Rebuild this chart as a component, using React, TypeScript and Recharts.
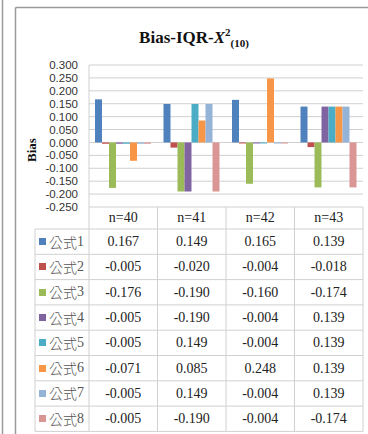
import { Bar, BarChart, CartesianGrid, XAxis, YAxis } from 'recharts'

const categories = ['n=40', 'n=41', 'n=42', 'n=43']
const seriesNames = ['公式1', '公式2', '公式3', '公式4', '公式5', '公式6', '公式7', '公式8']
const seriesColors = ['#4F81BD', '#C0504D', '#9BBB59', '#8064A2', '#4BACC6', '#F79646', '#95B3D7', '#D99694']

const formula1 = [0.167, 0.149, 0.165, 0.139]
const formula2 = [-0.005, -0.02, -0.004, -0.018]
const formula3 = [-0.176, -0.19, -0.16, -0.174]
const formula4 = [-0.005, -0.19, -0.004, 0.139]
const formula5 = [-0.005, 0.149, -0.004, 0.139]
const formula6 = [-0.071, 0.085, 0.248, 0.139]
const formula7 = [-0.005, 0.149, -0.004, 0.139]
const formula8 = [-0.005, -0.19, -0.004, -0.174]

const seriesValues = [formula1, formula2, formula3, formula4, formula5, formula6, formula7, formula8]
const yTicks = [0.3, 0.25, 0.2, 0.15, 0.1, 0.05, 0, -0.05, -0.1, -0.15, -0.2, -0.25]

const data = categories.map((name, i) => {
  const row: Record<string, string | number> = { name }
  seriesNames.forEach((s, j) => {
    row[s] = seriesValues[j][i]
  })
  return row
})

// layout
const W = 368
const H = 434
const PLOT_LEFT = 89
const PLOT_RIGHT = 363
const PLOT_TOP = 65
const PLOT_BOTTOM = 207
const HEADER_BOTTOM = 229
const ROW_H = 25.3
const LABEL_LEFT = 35
const COL_W = (PLOT_RIGHT - PLOT_LEFT) / categories.length
const LINE = '#D0D0D0'

const serif = '"Liberation Serif", "Times New Roman", serif'
const cjk = '"Noto Sans CJK TC", "Noto Sans CJK SC", sans-serif'

function DataTable() {
  const cells: JSX.Element[] = []
  // header
  categories.forEach((c, i) => {
    cells.push(
      <div
        key={`h${i}`}
        style={{
          position: 'absolute',
          left: PLOT_LEFT + i * COL_W,
          top: PLOT_BOTTOM,
          width: COL_W,
          height: HEADER_BOTTOM - PLOT_BOTTOM,
          lineHeight: `${HEADER_BOTTOM - PLOT_BOTTOM}px`,
          textAlign: 'center',
          fontFamily: serif,
          fontSize: 14,
          color: '#222',
        }}
      >
        {c}
      </div>,
    )
  })
  seriesNames.forEach((s, r) => {
    const top = HEADER_BOTTOM + r * ROW_H
    cells.push(
      <div
        key={`l${r}`}
        style={{
          position: 'absolute',
          left: LABEL_LEFT,
          top,
          width: PLOT_LEFT - LABEL_LEFT,
          height: ROW_H,
          display: 'flex',
          alignItems: 'center',
          fontSize: 14,
          color: '#555',
        }}
      >
        <span
          style={{
            display: 'inline-block',
            width: 7,
            height: 7,
            marginLeft: 4,
            marginRight: 3,
            background: seriesColors[r],
          }}
        />
        <span style={{ fontFamily: cjk, fontWeight: 300 }}>公式</span>
        <span style={{ fontFamily: serif }}>{s.slice(2)}</span>
      </div>,
    )
    seriesValues[r].forEach((v, i) => {
      cells.push(
        <div
          key={`c${r}-${i}`}
          style={{
            position: 'absolute',
            left: PLOT_LEFT + i * COL_W,
            top,
            width: COL_W,
            height: ROW_H,
            lineHeight: `${ROW_H}px`,
            textAlign: 'center',
            fontFamily: serif,
            fontSize: 14,
            color: '#222',
          }}
        >
          {v.toFixed(3)}
        </div>,
      )
    })
  })
  return (
    <>
      <svg
        width={W}
        height={H}
        style={{ position: 'absolute', left: 0, top: 0, pointerEvents: 'none' }}
      >
        {categories.map((_, i) => (
          <line
            key={`v${i}`}
            x1={PLOT_LEFT + (i + 1) * COL_W}
            x2={PLOT_LEFT + (i + 1) * COL_W}
            y1={PLOT_BOTTOM}
            y2={HEADER_BOTTOM + seriesNames.length * ROW_H}
            stroke={LINE}
          />
        ))}
        <line
          x1={PLOT_LEFT}
          x2={PLOT_LEFT}
          y1={PLOT_BOTTOM}
          y2={HEADER_BOTTOM + seriesNames.length * ROW_H}
          stroke={LINE}
        />
        <line
          x1={LABEL_LEFT}
          x2={LABEL_LEFT}
          y1={HEADER_BOTTOM}
          y2={HEADER_BOTTOM + seriesNames.length * ROW_H}
          stroke={LINE}
        />
        {seriesNames.map((_, r) => (
          <line
            key={`r${r}`}
            x1={LABEL_LEFT}
            x2={PLOT_RIGHT}
            y1={HEADER_BOTTOM + r * ROW_H}
            y2={HEADER_BOTTOM + r * ROW_H}
            stroke={LINE}
          />
        ))}
        <line
          x1={LABEL_LEFT}
          x2={PLOT_RIGHT}
          y1={HEADER_BOTTOM + seriesNames.length * ROW_H}
          y2={HEADER_BOTTOM + seriesNames.length * ROW_H}
          stroke={LINE}
        />
        {/* frames */}
        <line x1={2.5} x2={2.5} y1={0} y2={H} stroke="#9A9A9A" strokeWidth={1.5} />
        <line x1={15.5} x2={15.5} y1={7.5} y2={H} stroke="#9A9A9A" strokeWidth={1.5} />
        <line x1={15.5} x2={W} y1={7.5} y2={7.5} stroke="#9A9A9A" strokeWidth={1.5} />
      </svg>
      {cells}
    </>
  )
}

export default function App() {
  return (
    <div style={{ position: 'relative', width: W, height: H, background: '#fff', overflow: 'hidden' }}>
      <style>{'body{margin:0}'}</style>
      <BarChart
        width={W}
        height={H}
        data={data}
        margin={{ top: PLOT_TOP, right: W - PLOT_RIGHT, bottom: H - PLOT_BOTTOM, left: PLOT_LEFT - 60 }}
        barCategoryGap={6}
        barGap={0}
      >
        <CartesianGrid vertical={false} stroke={LINE} />
        <XAxis dataKey="name" hide />
        <YAxis
          width={60}
          domain={[-0.25, 0.3]}
          ticks={yTicks}
          interval={0}
          tickLine={false}
          tickSize={0}
          tickMargin={11}
          axisLine={{ stroke: LINE }}
          tickFormatter={(v: number) => v.toFixed(3)}
          tick={{ fill: '#333', fontSize: 11.5, fontFamily: '"Liberation Sans", Arial, sans-serif' }}
        />
        {seriesNames.map((s, j) => (
          <Bar key={s} dataKey={s} fill={seriesColors[j]} isAnimationActive={false} />
        ))}
      </BarChart>
      <div
        style={{
          position: 'absolute',
          left: 94,
          top: 29,
          width: 200,
          textAlign: 'center',
          fontFamily: serif,
          fontWeight: 'bold',
          fontSize: 17,
          lineHeight: '17px',
          color: '#111',
          whiteSpace: 'nowrap',
        }}
      >
        Bias-IQR-<i>X</i>
        <span style={{ fontSize: 11, position: 'relative', top: -7 }}>2</span>
        <span style={{ fontSize: 11, position: 'relative', top: 4 }}>(10)</span>
      </div>
      <div
        style={{
          position: 'absolute',
          left: 32 - 30,
          top: 150 - 8,
          width: 60,
          height: 16,
          lineHeight: '16px',
          textAlign: 'center',
          transform: 'rotate(-90deg)',
          fontFamily: serif,
          fontWeight: 'bold',
          fontSize: 13,
          color: '#111',
        }}
      >
        Bias
      </div>
      <DataTable />
    </div>
  )
}
